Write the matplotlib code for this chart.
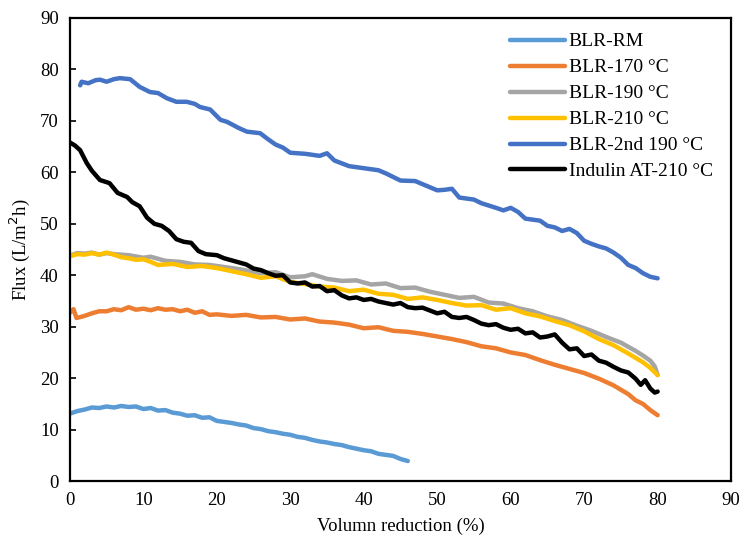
import matplotlib.pyplot as plt

plt.rcParams['font.family'] = ['Liberation Serif', 'DejaVu Serif']

# BLR-RM
x_rm = [0, 1, 2, 3, 4, 5, 6, 7, 8, 9, 10, 11, 12, 13, 14, 15, 16, 17, 18, 19, 20,
        21, 22, 23, 24, 25, 26, 27, 28, 29, 30, 31, 32, 33, 34, 35, 36, 37, 38, 39,
        40, 41, 42, 43, 44, 45, 46]
y_rm = [13.1, 13.6, 13.9, 14.3, 14.2, 14.5, 14.3, 14.6, 14.4, 14.5, 14.0, 14.2, 13.7,
        13.8, 13.3, 13.1, 12.7, 12.8, 12.3, 12.4, 11.7, 11.5, 11.3, 11.0, 10.8, 10.3,
        10.1, 9.7, 9.5, 9.2, 9.0, 8.6, 8.4, 8.0, 7.7, 7.5, 7.2, 7.0, 6.6, 6.3,
        6.0, 5.8, 5.3, 5.1, 4.9, 4.3, 3.9]

# BLR-170
x_170 = [0, 0.5, 0.9, 1.5, 2, 3, 4, 5, 6, 7, 8, 9, 10, 11, 12, 13, 14, 15, 16, 17, 18,
         19, 20, 22, 24, 26, 28, 30, 32, 34, 36, 38, 40, 42, 44, 46, 48, 50, 52, 54,
         56, 58, 60, 62, 64, 66, 68, 70, 72, 74, 76, 77, 78, 79, 80]
y_170 = [32.7, 33.4, 31.7, 31.9, 32.1, 32.6, 33.0, 33.0, 33.4, 33.2, 33.8, 33.3, 33.5,
         33.2, 33.6, 33.3, 33.4, 33.0, 33.3, 32.7, 33.0, 32.3, 32.4, 32.1, 32.3, 31.8,
         31.9, 31.4, 31.6, 31.0, 30.8, 30.4, 29.7, 29.9, 29.2, 29.0, 28.6, 28.1, 27.6,
         27.0, 26.2, 25.8, 25.0, 24.5, 23.5, 22.6, 21.8, 21.0, 19.9, 18.6, 16.9, 15.7,
         15.0, 13.8, 12.8]

# BLR-190
x_190 = [0, 1, 2, 3, 4, 5, 6, 8, 10, 11, 13, 15, 17, 19, 21, 23, 26, 28, 30, 32, 33,
         35, 37, 39, 41, 43, 45, 47, 49, 51, 53, 55, 57, 59, 61, 63, 65, 67, 69, 71,
         73, 75, 77, 78, 79, 79.6, 80]
y_190 = [43.8, 44.3, 44.2, 44.4, 44.0, 44.3, 44.1, 43.9, 43.4, 43.6, 42.8, 42.6, 42.1,
         42.0, 41.6, 41.2, 40.4, 40.6, 39.6, 39.8, 40.2, 39.3, 38.9, 39.0, 38.2, 38.4,
         37.5, 37.6, 36.8, 36.2, 35.6, 35.8, 34.7, 34.5, 33.6, 33.0, 32.0, 31.3, 30.2,
         29.2, 28.0, 26.9, 25.3, 24.4, 23.4, 22.3, 20.6]

# BLR-210
x_210 = [0, 1, 2, 3, 4, 5, 6, 7, 8, 9, 10, 11, 12, 14, 16, 18, 20, 22, 24, 26, 28, 30,
         32, 34, 36, 38, 40, 42, 44, 46, 48, 50, 52, 54, 56, 58, 60, 62, 64, 66, 68,
         70, 72, 74, 76, 78, 79, 80]
y_210 = [43.7, 44.1, 44.0, 44.3, 44.0, 44.4, 44.0, 43.5, 43.3, 43.0, 43.1, 42.6, 42.0,
         42.2, 41.6, 41.8, 41.4, 40.8, 40.2, 39.5, 39.8, 38.7, 38.3, 37.8, 37.6, 36.9,
         37.2, 36.4, 36.2, 35.4, 35.7, 35.2, 34.6, 34.1, 34.2, 33.3, 33.6, 32.6, 32.0,
         31.1, 30.3, 29.1, 27.6, 26.4, 24.8, 23.1, 22.0, 20.6]

# BLR-2nd 190
x_2nd = [1.4, 1.6, 2.5, 3.5, 4.1, 5, 6, 6.8, 8.2, 9.5, 10.9, 12, 13.2, 14.5, 15.9, 17,
         17.7, 19.1, 20.5, 21.4, 23, 24.1, 25.9, 27, 28, 29, 30, 32, 34, 35, 36, 38,
         40, 42, 43, 45, 47, 48, 50, 51, 52, 53, 55, 56, 58, 59, 60, 61, 62, 64, 65,
         66, 67, 68, 69, 70, 71, 72, 73, 74, 75, 76, 77, 78, 79, 80]
y_2nd = [76.9, 77.6, 77.3, 77.9, 78.0, 77.6, 78.1, 78.3, 78.1, 76.6, 75.6, 75.4, 74.4,
         73.7, 73.7, 73.3, 72.7, 72.2, 70.2, 69.8, 68.6, 67.9, 67.6, 66.4, 65.4, 64.8,
         63.8, 63.6, 63.2, 63.7, 62.3, 61.2, 60.8, 60.4, 59.8, 58.4, 58.3, 57.7, 56.5,
         56.6, 56.8, 55.1, 54.7, 54.0, 53.1, 52.6, 53.1, 52.3, 51.0, 50.6, 49.6, 49.3,
         48.6, 49.0, 48.2, 46.7, 46.1, 45.6, 45.2, 44.4, 43.4, 42.0, 41.4, 40.4, 39.7,
         39.4]

# Indulin AT-210
x_ind = [0, 0.7, 1.4, 2.3, 3, 4.1, 5.4, 6.5, 7.8, 8.5, 9.5, 10.5, 11.5, 12.5, 13.5,
         14.5, 15.5, 16.5, 17.5, 18.5, 20, 21, 22, 24, 25, 26, 27, 28, 29, 30, 31, 32,
         33, 34, 35, 36, 37, 38, 39, 40, 41, 42, 44, 45, 46, 47, 48, 50, 51, 52, 53,
         54, 55, 56, 57, 58, 59, 60, 61, 62, 63, 64, 65, 66, 67, 68, 69, 70, 71, 72,
         73, 74, 75, 76, 77, 77.7, 78.3, 79, 79.6, 80]
y_ind = [65.8, 65.2, 64.3, 61.8, 60.3, 58.5, 57.9, 56.0, 55.2, 54.2, 53.4, 51.2, 50.0,
         49.6, 48.6, 47.0, 46.5, 46.3, 44.7, 44.1, 43.9, 43.3, 42.9, 42.1, 41.3, 41.0,
         40.4, 39.9, 40.0, 38.6, 38.4, 38.6, 37.8, 37.9, 36.9, 37.1, 36.1, 35.5, 35.7,
         35.2, 35.4, 34.9, 34.3, 34.6, 33.8, 33.6, 33.7, 32.6, 32.9, 31.9, 31.7, 31.9,
         31.3, 30.6, 30.3, 30.5, 29.8, 29.4, 29.6, 28.7, 28.9, 27.9, 28.1, 28.5, 26.9,
         25.6, 25.8, 24.3, 24.6, 23.4, 23.0, 22.2, 21.5, 21.1, 19.9, 18.7, 19.6, 18.0,
         17.2, 17.4]

series = [
    (x_rm, y_rm, '#5B9BD5', 'BLR-RM'),
    (x_170, y_170, '#ED7D31', 'BLR-170 °C'),
    (x_190, y_190, '#A5A5A5', 'BLR-190 °C'),
    (x_210, y_210, '#FFC000', 'BLR-210 °C'),
    (x_2nd, y_2nd, '#4472C4', 'BLR-2nd 190 °C'),
    (x_ind, y_ind, '#000000', 'Indulin AT-210 °C'),
]

fig = plt.figure(figsize=(7.43, 5.43), dpi=100)
ax = fig.add_axes([0.094, 0.114, 0.89, 0.853])

for x, y, c, lab in series:
    ax.plot(x, y, color=c, lw=3.2, label=lab, solid_joinstyle='round',
            solid_capstyle='round')

ax.set_xlim(0, 90)
ax.set_ylim(0, 90)
ax.set_xticks(range(0, 91, 10))
ax.set_yticks(range(0, 91, 10))
ax.tick_params(axis='y', direction='in', length=4, width=1.2, labelsize=13.5, pad=8)
ax.tick_params(axis='x', length=0, labelsize=13.5, pad=8)
for s in ax.spines.values():
    s.set_linewidth(1.6)

ax.set_xlabel('Volumn reduction (%)', fontsize=13.5, labelpad=6)
ax.set_ylabel('Flux (L/m$^2$h)', fontsize=13.5, labelpad=6)

ax.legend(loc='upper right', bbox_to_anchor=(0.99, 0.993), frameon=False,
          fontsize=14, handlelength=2.8, handletextpad=0.2, labelspacing=0.43,
          borderaxespad=0.2)

fig.savefig('out.png', dpi=100)
